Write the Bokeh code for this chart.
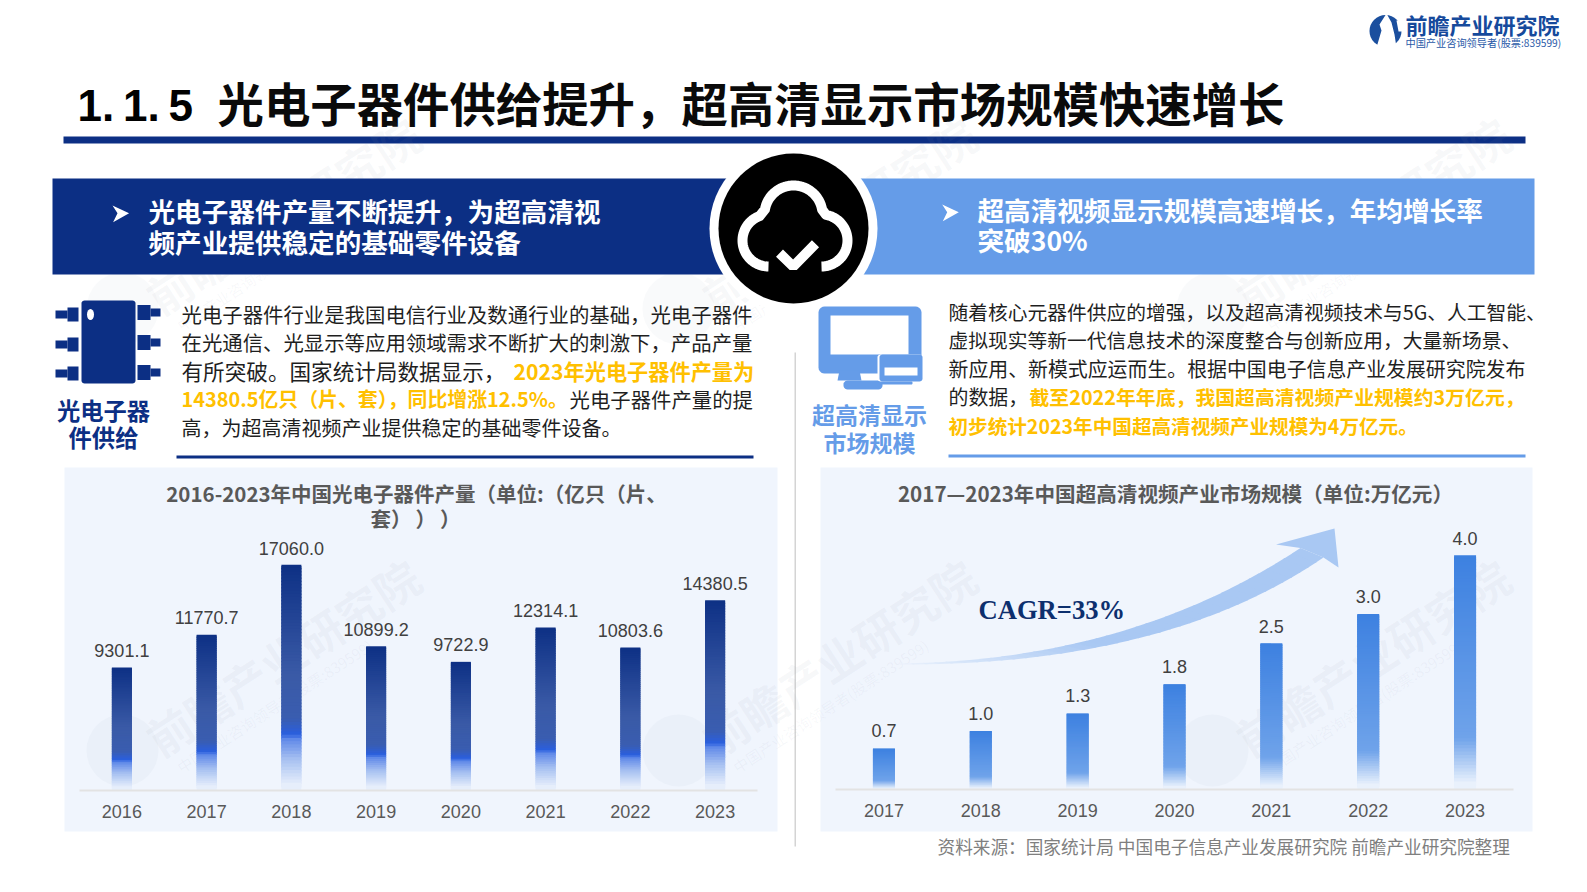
import numpy as np
from bokeh.core.properties import value
from bokeh.embed import file_html
from bokeh.models import Column, ColumnDataSource, Range1d
from bokeh.plotting import figure
from bokeh.resources import INLINE

# ---- chart data ----
output_years = ["2016", "2017", "2018", "2019", "2020", "2021", "2022", "2023"]
output_values = [9301.1, 11770.7, 17060.0, 10899.2, 9722.9, 12314.1, 10803.6, 14380.5]
market_years = ["2017", "2018", "2019", "2020", "2021", "2022", "2023"]
market_values = [0.7, 1.0, 1.3, 1.8, 2.5, 3.0, 4.0]

# ---- texts ----
page_title_no = "1.\u20091.\u20095"
page_title = "光电子器件供给提升，超高清显示市场规模快速增长"
left_banner = ["光电子器件产量不断提升，为超高清视", "频产业提供稳定的基础零件设备"]
right_banner = ["超高清视频显示规模高速增长，年均增长率", "突破30%"]
left_icon_label = ["光电子器", "件供给"]
right_icon_label = ["超高清显示", "市场规模"]
output_title = ["2016-2023年中国光电子器件产量（单位:（亿只（片、", "套）\u2009）\u2009）"]
market_title = "2017—2023年中国超高清视频产业市场规模（单位:万亿元）"
source_note = "资料来源：国家统计局 中国电子信息产业发展研究院 前瞻产业研究院整理"
cagr_text = "CAGR=33%"
logo_name = "前瞻产业研究院"
logo_sub = "中国产业咨询领导者(股票:839599)"

NAVY = "#0c2f84"
SKY = "#659ce8"
AMBER = "#ffc000"
PANEL = "#f0f5fd"
BODY = "#1f1f1f"
FONT = "Noto Sans CJK SC"

W, H = 1571, 876
bg = figure(frame_width=W, frame_height=H, x_range=Range1d(16, 16 + W), y_range=Range1d(H, 0),
            output_backend="svg", toolbar_location=None, min_border=0, x_axis_location=None, y_axis_location=None,
            outline_line_color=None, background_fill_color="white", border_fill_color="white")
bg.grid.visible = False


def T(x, y, text, size, color, bold=False, align="left", font=FONT, angle=0, alpha=1.0):
    lift = 0.09 * size if font == FONT and angle == 0 else 0
    bg.text(x=[x], y=[y - lift], text=[text], text_font=value(font), text_font_size=value(f"{size}px"),
            text_color=color, text_font_style="bold" if bold else "normal", text_align=align,
            text_baseline="middle", angle=angle, text_alpha=alpha)


def R(x0, x1, y0, y1, color):
    bg.quad(left=[x0], right=[x1], top=[y0], bottom=[y1], fill_color=color, line_color=None)


def RR(x0, x1, y0, y1, r, color):
    a = np.linspace(0, np.pi / 2, 6)
    xs = np.r_[x1 - r + r * np.cos(a), x0 + r - r * np.sin(a), x0 + r - r * np.cos(a), x1 - r + r * np.sin(a)]
    ys = np.r_[y1 - r + r * np.sin(a), y1 - r + r * np.cos(a), y0 + r - r * np.sin(a), y0 + r - r * np.cos(a)]
    bg.patch(xs, ys, fill_color=color, line_color=None)


def mix(c1, c2, t):
    a = np.array([int(c1[i:i + 2], 16) for i in (1, 3, 5)], float)
    b = np.array([int(c2[i:i + 2], 16) for i in (1, 3, 5)], float)
    v = (a + (b - a) * t).round().astype(int)
    return "#%02x%02x%02x" % tuple(v)


def ramp(stops, t):
    for (t0, c0), (t1, c1) in zip(stops, stops[1:]):
        if t <= t1:
            return mix(c0, c1, (t - t0) / (t1 - t0) if t1 > t0 else 0)
    return stops[-1][1]


# ---- page header ----
T(77, 105, page_title_no, 44, "#000000", font="Liberation Sans", bold=True)
T(217, 105, page_title, 46.4, "#0a0a0a", bold=True)
R(63, 1525, 136, 143, NAVY)

# logo
bg.circle(x=[1385], y=[30.5], radius=16, fill_color="#1b4f9e", line_color=None)
bg.patch([1386, 1391, 1394, 1396, 1376, 1381, 1379], [13, 22, 34, 47, 47, 30, 24], fill_color="white", line_color=None)
bg.patch([1396, 1403, 1403, 1398], [20, 20, 31, 31], fill_color="white", line_color=None)
T(1405, 25, logo_name, 22, "#164a9c", bold=True)
T(1405, 43, logo_sub, 10.2, "#2a5aa8")

# ---- panels ----
R(64, 777, 467, 831, PANEL)
R(820, 1532, 467, 831, PANEL)
R(794, 795.5, 352, 846, "#d4d4d4")

# watermark
for wx, wy in [(150, 300), (706, 300), (1240, 300), (150, 742), (706, 742), (1240, 742)]:
    bg.circle(x=[wx - 28], y=[wy + 8], radius=36, fill_color="#8a94a8", fill_alpha=0.05, line_color=None)
    T(wx, wy, logo_name, 45, "#8a94a8", bold=True, angle=np.radians(33), alpha=0.065)
    T(wx + 28, wy + 26, logo_sub, 15, "#8a94a8", angle=np.radians(33), alpha=0.065)

# ---- banners ----
R(52, 740, 178, 274, NAVY)
R(850, 1534, 178, 274, SKY)


def pointer(dx, dy):
    bg.patch(np.array([941.7, 958.3, 942.3, 946.7]) + dx, np.array([204, 211.7, 220.7, 211.7]) + dy,
             fill_color="white", line_color=None)


pointer(-829.7, 1)
pointer(0, 0)
T(148, 212.5, left_banner[0], 26.6, "white", bold=True)
T(148, 243, left_banner[1], 26.6, "white", bold=True)
T(977, 211, right_banner[0], 26.6, "white", bold=True)
T(977, 241.5, right_banner[1], 26.6, "white", bold=True)

# round cloud badge
bg.circle(x=[793], y=[228], radius=84, fill_color="white", line_color=None)
bg.circle(x=[793], y=[228], radius=75, fill_color="black", line_color=None)


def arc(cx, cy, r, a0, a1):
    a = np.radians(np.linspace(a0, a1, 50))
    return cx + r * np.cos(a), cy + r * np.sin(a)


la = arc(768, 240, 26, 90, 250)
ta = arc(793, 214, 29, 190, 350)
ra = arc(821, 240, 26, 280, 450)
bg.line(np.r_[la[0], ta[0], ra[0]], np.r_[la[1], ta[1], ra[1]], line_color="white", line_width=10, line_join="round")
bg.line([779, 792.7, 815], [252.7, 266, 243.3], line_color="white", line_width=10)

# chip icon
RR(81, 135, 300, 383, 3, NAVY)
bg.ellipse(x=[90], y=[314], width=7, height=11, fill_color="white", line_color=None)
for py in (314, 344, 373):
    R(55, 67, py - 4, py + 4, NAVY)
    R(67, 78, py - 7, py + 7, NAVY)
for py in (312, 342, 372):
    R(137, 150, py - 7.5, py + 7.5, NAVY)
    R(150, 160, py - 4, py + 4, NAVY)
T(103, 412, left_icon_label[0], 23.3, NAVY, bold=True, align="center")
T(103, 439, left_icon_label[1], 23.3, NAVY, bold=True, align="center")

# monitor icon
RR(818, 921, 306, 373, 6, SKY)
R(830, 908, 315, 354, "white")
bg.patch([839, 859, 861, 837], [370, 370, 380, 380], fill_color=SKY, line_color=None)
RR(843, 882, 380, 389, 4, SKY)
RR(877, 922, 354, 381, 3, "white")
RR(879, 922, 354, 381, 3, SKY)
R(884, 917, 367, 375, "white")
RR(880, 912, 381, 384, 1, SKY)
T(869, 416, right_icon_label[0], 23, SKY, bold=True, align="center")
T(869, 444, right_icon_label[1], 23, SKY, bold=True, align="center")

# ---- body paragraphs ----
T(181, 315, "光电子器件行业是我国电信行业及数通行业的基础，光电子器件", 20.4, BODY)
T(181, 343, "在光通信、光显示等应用领域需求不断扩大的刺激下，产品产量", 20.4, BODY)
T(181, 371.5, "有所突破。国家统计局数据显示，", 21.6, BODY)
T(513, 371.5, "2023年光电子器件产量为", 21.2, AMBER, bold=True)
T(181, 400, "14380.5亿只（片、套），同比增涨12.5%。", 19.9, AMBER, bold=True)
T(569, 400, "光电子器件产量的提", 20.4, BODY)
T(181, 429, "高，为超高清视频产业提供稳定的基础零件设备。", 20, BODY)
R(176, 753, 455, 458, NAVY)

T(948, 313, "随着核心元器件供应的增强，以及超高清视频技术与5G、人工智能、", 19.75, BODY)
T(948, 341, "虚拟现实等新一代信息技术的深度整合与创新应用，大量新场景、", 19.75, BODY)
T(948, 369.5, "新应用、新模式应运而生。根据中国电子信息产业发展研究院发布", 19.9, BODY)
T(948, 398, "的数据，", 19.9, BODY)
T(1029, 398, "截至2022年年底，我国超高清视频产业规模约3万亿元，", 19.85, AMBER, bold=True)
T(948, 426.5, "初步统计2023年中国超高清视频产业规模为4万亿元。", 19.6, AMBER, bold=True)
R(948, 1525, 454, 457, SKY)

# ---- chart titles, source ----
T(416, 494, output_title[0], 20.5, "#595959", bold=True, align="center")
T(415, 519, output_title[1], 20.5, "#595959", bold=True, align="center")
T(1175, 494, market_title, 20.6, "#595959", bold=True, align="center")
T(937, 847.5, source_note, 17.65, "#7f7f7f")

# ---- CAGR arrow ----
def bez(p0, p1, p2, t):
    return (1 - t) ** 2 * p0 + 2 * t * (1 - t) * p1 + t ** 2 * p2


ARROW = "#a9c8f3"
ts = np.linspace(0, 1, 41)
for t0, t1 in zip(ts, ts[1:]):
    tt = np.array([t0, min(t1 + 0.004, 1)])
    ux, uy = bez(899, 1130, 1300, tt), bez(663, 660, 547.5, tt)
    lx, ly = bez(899, 1165, 1323, tt), bez(664, 665, 557, tt)
    bg.patch(np.r_[ux, lx[::-1]], np.r_[uy, ly[::-1]], fill_color=mix(PANEL, ARROW, min(1, 0.1 + t0 * 2.2)), line_color=None)
bg.patch([1334, 1275.5, 1300, 1323, 1338], [528, 544, 547.5, 557, 567], fill_color=ARROW, line_color=None)
T(978, 609, cagr_text, 26.6, "#0d2f6e", bold=True, font="Liberation Serif")


# ---- bar charts ----
def gradient_bars(p, cats, vals, width, stops):
    n = 70
    data = dict(x=[], bottom=[], top=[], color=[])
    for cat, v in zip(cats, vals):
        for j in range(n):
            t0, t1 = j / n, (j + 1) / n
            data["x"].append(cat)
            data["top"].append(v * (1 - t0) + (0 if j == 0 else v * 0.02))
            data["bottom"].append(v * (1 - t1))
            data["color"].append(ramp(stops, (t0 + t1) / 2))
    p.vbar(x="x", top="top", bottom="bottom", width=width, fill_color="color", line_color=None,
           source=ColumnDataSource(data))


def chart(cats, vals, labels, ymax, left, right, bottom, width, stops, margin):
    p = figure(x_range=cats, y_range=Range1d(0, ymax), width=713, height=364, output_backend="svg",
               toolbar_location=None, min_border_left=left, min_border_right=right, min_border_top=0,
               min_border_bottom=bottom, outline_line_color=None, background_fill_color=None,
               border_fill_color=None, margin=margin)
    p.grid.visible = False
    p.yaxis.visible = False
    ax = p.xaxis[0]
    ax.axis_line_color = "#e3e3e3"
    ax.axis_line_width = 2
    ax.major_tick_line_color = None
    ax.minor_tick_line_color = None
    ax.major_label_text_font = "Liberation Sans"
    ax.major_label_text_font_size = "18px"
    ax.major_label_text_color = "#595959"
    ax.major_label_standoff = 8
    gradient_bars(p, cats, vals, width, stops)
    p.text(x=cats, y=vals, text=labels, text_font=value("Liberation Sans"), text_font_size=value("18px"),
           text_color="#404040", text_align="center", text_baseline="middle", y_offset=-18)
    return p


output_stops = [(0, "#0c2f84"), (0.5, "#3a5aa6"), (0.7, "#3a5db0"), (0.77, "#2a5fdf"), (0.79, "#5f88e8"),
                (0.88, "#a6c0f1"), (1, "#eaf1fc")]
market_stops = [(0, "#3c80e0"), (0.8, "#6fa3ea"), (1, "#eef4fd")]

f1 = chart(output_years, output_values, [f"{v:.1f}" for v in output_values], 323 * 76,
           15, 19, 41, 0.236, output_stops, (467 - H, 0, 0, 64 - 1))
f2 = chart(market_years, market_values, [f"{v:.1f}" for v in market_values], 322 / 58.2,
           16, 17, 42, 0.227, market_stops, (-364, 0, 0, 820 - 1))

root = Column(children=[bg, f1, f2], width=W, height=H)
open("out.html", "w").write(file_html(root, INLINE))
